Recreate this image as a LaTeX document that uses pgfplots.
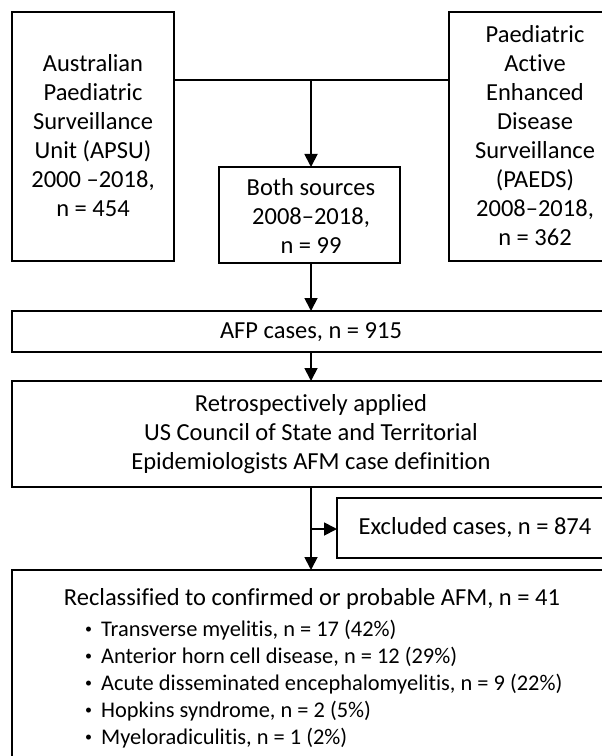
\documentclass[border=0pt]{standalone}
\usepackage{pgfplots}
\pgfplotsset{compat=1.18}
\usepackage{fontspec}
\setmainfont{Carlito}[Ligatures=NoCommon]
\usetikzlibrary{arrows.meta}
\tikzset{
  box/.style={black,line width=1.8bp,line join=miter,mark=none},
  thinbox/.style={black,line width=1.3bp,line join=miter,mark=none},
  arr/.style={black,line width=1.8bp,mark=none,-{Triangle[width=13bp,length=13bp]}},
  txt/.style={font=\fontsize{24.5bp}{29bp}\selectfont,align=center,inner sep=0pt},
  itm/.style={font=\fontsize{22.4bp}{28bp}\selectfont,inner sep=0pt,anchor=base west}}
\newcommand{\bul}{\makebox[16bp][l]{\raisebox{2.2bp}{\fontsize{14bp}{14bp}\selectfont •}}}
\begin{document}
\begin{tikzpicture}
\begin{axis}[width=602bp,height=756bp,scale only axis,
  xmin=0,xmax=602,ymin=0,ymax=756,y dir=reverse,
  hide axis, clip=true]
% boxes
\addplot[box] coordinates {(12,12) (174,12) (174,261) (12,261)} --cycle;
\addplot[box] coordinates {(449,12) (614,12) (614,261) (449,261)} --cycle;
\addplot[thinbox] coordinates {(219,167) (400,167) (400,263) (219,263)} --cycle;
\addplot[box] coordinates {(12,311) (614,311) (614,352) (12,352)} --cycle;
\addplot[box] coordinates {(12,381) (614,381) (614,487) (12,487)} --cycle;
\addplot[box] coordinates {(337,498) (614,498) (614,558) (337,558)} --cycle;
\addplot[box] coordinates {(12,570) (614,570) (614,770) (12,770)} --cycle;
% connectors
\addplot[box] coordinates {(174,80) (449,80)};
\addplot[arr] coordinates {(311,80) (311,167)};
\addplot[arr] coordinates {(311,263) (311,311)};
\addplot[arr] coordinates {(311,352) (311,381)};
\addplot[arr] coordinates {(311,487) (311,570)};
\addplot[arr] coordinates {(311,529) (337,529)};
% texts
\node[txt] at (axis cs:93,136) {Australian\\Paediatric\\Surveillance\\Unit (APSU)\\2000 --2018,\\n = 454};
\node[txt] at (axis cs:535,136) {Paediatric\\Active\\Enhanced\\Disease\\Surveillance\\(PAEDS)\\2008--2018,\hspace*{12bp}\\n = 362};
\node[txt] at (axis cs:311,216) {Both sources\\2008--2018,\hspace*{14bp}\\n = 99};
\node[txt] at (axis cs:311,332) {AFP cases, n = 915};
\node[txt] at (axis cs:311,434) {Retrospectively applied\\US Council of State and Territorial\\Epidemiologists AFM case definition};
\node[txt] at (axis cs:475,528) {Excluded cases, n = 874};
\node[txt,anchor=base] at (axis cs:312,605) {Reclassified to confirmed or probable AFM, n = 41};
\node[itm] at (axis cs:85,636) {\bul Transverse myelitis, n = 17 (42\%)};
\node[itm] at (axis cs:85,663) {\bul Anterior horn cell disease, n = 12 (29\%)};
\node[itm] at (axis cs:85,690) {\bul Acute disseminated encephalomyelitis, n = 9 (22\%)};
\node[itm] at (axis cs:85,717) {\bul Hopkins syndrome, n = 2 (5\%)};
\node[itm] at (axis cs:85,744) {\bul Myeloradiculitis, n = 1 (2\%)};
\end{axis}
\pgfresetboundingbox
\path (current axis.south west) rectangle (current axis.north east);
\end{tikzpicture}
\end{document}
